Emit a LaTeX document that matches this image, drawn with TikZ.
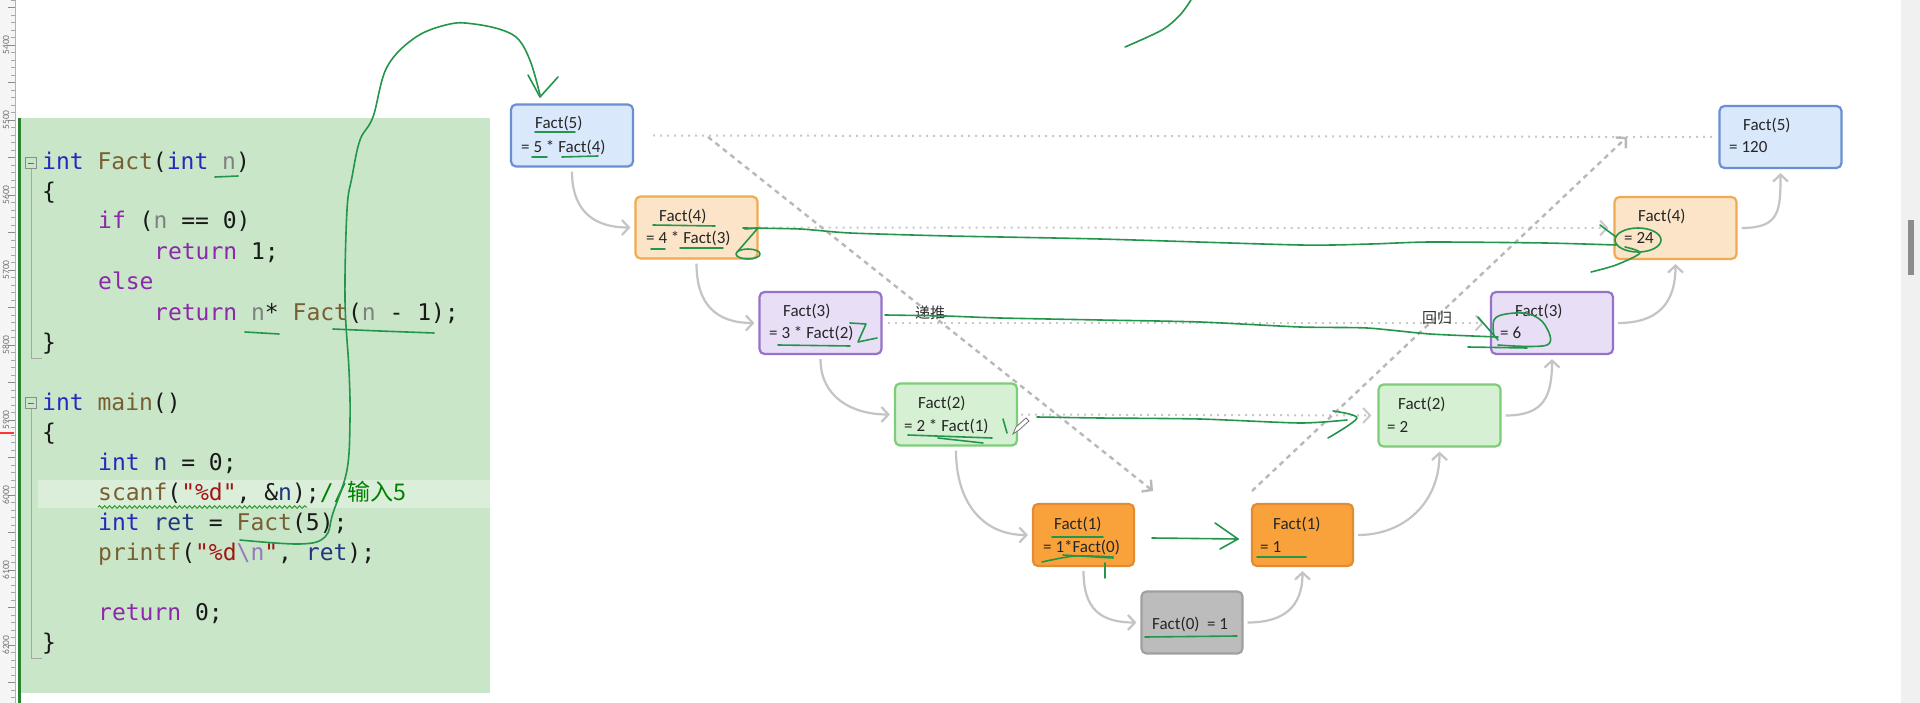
\documentclass[tikz,border=0pt]{standalone}
\usepackage{fontspec}
\setmainfont{Carlito}
\newfontfamily\codefont{DejaVu Sans Mono}
\newfontfamily\cjk{Noto Sans CJK SC}
\usetikzlibrary{arrows.meta,decorations.pathmorphing}
\definecolor{fA}{RGB}{218,232,252}\definecolor{dA}{RGB}{108,142,210}
\definecolor{fB}{RGB}{252,228,200}\definecolor{dB}{RGB}{240,170,80}
\definecolor{fC}{RGB}{232,222,246}\definecolor{dC}{RGB}{150,115,200}
\definecolor{fD}{RGB}{213,240,210}\definecolor{dD}{RGB}{125,205,120}
\definecolor{fE}{RGB}{249,162,60}\definecolor{dE}{RGB}{225,140,50}
\definecolor{fF}{RGB}{188,188,188}\definecolor{dF}{RGB}{160,160,160}
\definecolor{connc}{RGB}{196,196,196}
\definecolor{dotc}{RGB}{200,200,200}
\definecolor{dashc}{RGB}{185,185,185}
\definecolor{inkc}{RGB}{35,150,75}
\definecolor{panel}{RGB}{201,230,201}
\definecolor{hlband}{RGB}{218,238,218}
\definecolor{pborder}{RGB}{40,130,50}
\definecolor{ckw}{RGB}{40,40,190}
\definecolor{cfn}{RGB}{120,95,50}
\definecolor{cctl}{RGB}{140,40,170}
\definecolor{cpar}{RGB}{128,128,128}
\definecolor{cloc}{RGB}{31,55,127}
\definecolor{cstr}{RGB}{163,21,21}
\definecolor{cesc}{RGB}{150,120,190}
\definecolor{ccom}{RGB}{0,128,0}
\definecolor{codeblack}{RGB}{25,25,25}
\newcommand\Ckw[1]{\textcolor{ckw}{#1}}
\newcommand\Cfn[1]{\textcolor{cfn}{#1}}
\newcommand\Cctl[1]{\textcolor{cctl}{#1}}
\newcommand\Cpar[1]{\textcolor{cpar}{#1}}
\newcommand\Cloc[1]{\textcolor{cloc}{#1}}
\newcommand\Cstr[1]{\textcolor{cstr}{#1}}
\newcommand\Cesc[1]{\textcolor{cesc}{#1}}
\newcommand\Ccom[1]{\textcolor{ccom}{#1}}
\begin{document}
\begin{tikzpicture}[x=1pt,y=-1pt,
  bx/.style={rounded corners=5pt, line width=2.2pt, minimum width=122pt, minimum height=62pt, inner sep=0pt},
  sbx/.style={bx, minimum width=101pt},
  btxt/.style={anchor=base west, inner sep=0pt, font=\fontsize{17}{20}\selectfont, text=black!85},
  conn/.style={draw=connc, line width=2.2pt, -{Straight Barb[length=7pt,width=15pt]}, shorten <=4pt, shorten >=4pt},
  dotl/.style={draw=dotc, line width=2pt, dash pattern=on 2pt off 5pt},
  dashl/.style={draw=dashc, line width=2.4pt, dash pattern=on 5pt off 4.5pt},
  tipd/.style={-{Straight Barb[length=7pt,width=15pt]}},
  ink/.style={draw=inkc, line width=1.6pt, line cap=round, line join=round},
  code/.style={anchor=base west, inner sep=0pt, font=\codefont\fontsize{23}{28}\selectfont, text=codeblack},
  cjklab/.style={inner sep=1pt, font=\cjk\fontsize{15}{17}\selectfont, text=black!80}
]
\useasboundingbox (0,0) rectangle (1920,703);
\fill[white] (0,0) rectangle (1920,703);

% ruler
\fill[black!4] (0,0) rectangle (15,703);
\draw[black!30, line width=0.8pt] (15,0) -- (15,703);
\foreach \i in {0,...,93} { \draw[black!35, line width=0.6pt] (11,{\i*7.5}) -- (15,{\i*7.5}); }
\foreach \i in {0,...,18} { \draw[black!45, line width=0.6pt] (8,{\i*37.5+7.5}) -- (15,{\i*37.5+7.5}); }
\foreach \v [count=\k from 0] in {5400,5500,...,6200} {
  \node[rotate=90, inner sep=0pt, font=\fontsize{9.5}{10}\selectfont, text=black!55] (rl\k) at (6,{45+75*\k}) {\v};
}
\draw[red!80, line width=1.5pt] (0,433) -- (14,433);

% scrollbar
\fill[black!6] (1901,0) rectangle (1920,703);
\fill[black!45] (1908,220) rectangle (1914,275);

% code panel
\fill[panel] (20,118) rectangle (490,693);
\fill[hlband] (38,480) rectangle (490,508);
\draw[pborder, line width=3pt] (19,118) -- (19,703);

\node[draw=black!45, line width=0.8pt, minimum size=11pt, inner sep=0pt, fill=panel] (cb1) at (31,163) {};
\draw[black!60, line width=0.8pt] (28,163) -- (34,163);
\draw[black!35, line width=0.8pt] (cb1.south) -- (31,358) -- (42,358);
\node[draw=black!45, line width=0.8pt, minimum size=11pt, inner sep=0pt, fill=panel] (cb2) at (31,403) {};
\draw[black!60, line width=0.8pt] (28,403) -- (34,403);
\draw[black!35, line width=0.8pt] (cb2.south) -- (31,658) -- (42,658);

\node[code] (c1) at (42,170) {\Ckw{int} \Cfn{Fact}(\Ckw{int} \Cpar{n})};
\node[code] (c2) at (42,200) {\{};
\node[code] (c3) at (98,229) {\Cctl{if} (\Cpar{n} == 0)};
\node[code] (c4) at (154,260) {\Cctl{return} 1;};
\node[code] (c5) at (98,290) {\Cctl{else}};
\node[code] (c6) at (154,320) {\Cctl{return} \Cpar{n}* \Cfn{Fact}(\Cpar{n} - 1);};
\node[code] (c7) at (42,350) {\}};
\node[code] (c8) at (42,410) {\Ckw{int} \Cfn{main}()};
\node[code] (c9) at (42,440) {\{};
\node[code] (c10) at (98,470) {\Ckw{int} \Cloc{n} = 0;};
\node[code] (c11) at (98,500) {\Cfn{scanf}(\Cstr{"\%d"}, \&\Cloc{n});\Ccom{//{\cjk 输入5}}};
\node[code] (c12) at (98,530) {\Ckw{int} \Cloc{ret} = \Cfn{Fact}(5);};
\node[code] (c13) at (98,560) {\Cfn{printf}(\Cstr{"\%d}\Cesc{\textbackslash n}\Cstr{"}, \Cloc{ret});};
\node[code] (c14) at (98,620) {\Cctl{return} 0;};
\node[code] (c15) at (42,650) {\}};
\draw[draw=ccom!80!white, line width=1pt, decorate, decoration={snake, amplitude=1.3pt, segment length=5pt}] (98,507) -- (307,507);

% boxes
\node[bx, fill=fA, draw=dA] (L5) at (572,135.5) {};
\node[bx, fill=fB, draw=dB] (L4) at (696.5,227.5) {};
\node[bx, fill=fC, draw=dC] (L3) at (820.5,323) {};
\node[bx, fill=fD, draw=dD] (L2) at (956,414.5) {};
\node[sbx, fill=fE, draw=dE] (L1) at (1083.5,535) {};
\node[sbx, fill=fF, draw=dF] (Z0) at (1192,622.5) {};
\node[sbx, fill=fE, draw=dE] (R1) at (1302.5,535) {};
\node[bx, fill=fD, draw=dD] (R2) at (1439.5,415.5) {};
\node[bx, fill=fC, draw=dC] (R3) at (1552,323) {};
\node[bx, fill=fB, draw=dB] (R4) at (1675.5,228) {};
\node[bx, fill=fA, draw=dA] (R5) at (1780.5,137) {};

\node[btxt] (L5a) at (535,129) {Fact(5)};
\node[btxt] (L5b) at (521,153) {= 5 * Fact(4)};
\node[btxt] (L4a) at (659,222) {Fact(4)};
\node[btxt] (L4b) at (646,244) {= 4 * Fact(3)};
\node[btxt] (L3a) at (783,317) {Fact(3)};
\node[btxt] (L3b) at (769,339) {= 3 * Fact(2)};
\node[btxt] (L2a) at (918,408) {Fact(2)};
\node[btxt] (L2b) at (904,431) {= 2 * Fact(1)};
\node[btxt] (L1a) at (1054,529) {Fact(1)};
\node[btxt] (L1b) at (1043,552) {= 1*Fact(0)};
\node[btxt] (Z0a) at (1152,629) {Fact(0)~~= 1};
\node[btxt] (R1a) at (1273,529) {Fact(1)};
\node[btxt] (R1b) at (1260,552) {= 1};
\node[btxt] (R2a) at (1398,409) {Fact(2)};
\node[btxt] (R2b) at (1387,432) {= 2};
\node[btxt] (R3a) at (1515,317) {Fact(3)};
\node[btxt] (R3b) at (1500,339) {= 6};
\node[btxt] (R4a) at (1638,222) {Fact(4)};
\node[btxt] (R4b) at (1624,244) {= 24};
\node[btxt] (R5a) at (1743,131) {Fact(5)};
\node[btxt] (R5b) at (1729,153) {= 120};

% curved connectors
\draw[conn] (L5.south) .. controls +(0,42) and +(-42,0) .. (L4.west);
\draw[conn] (L4.south) .. controls +(0,45) and +(-42,0) .. (L3.west);
\draw[conn] (L3.south) .. controls +(0,42) and +(-42,0) .. (L2.west);
\draw[conn] (L2.south) .. controls +(0,55) and +(-50,0) .. (L1.west);
\draw[conn] (L1.south) .. controls +(0,42) and +(-40,0) .. (Z0.west);
\draw[conn] (Z0.east) .. controls +(40,0) and +(0,40) .. (R1.south);
\draw[conn] (R1.east) .. controls +(50,0) and +(0,55) .. (R2.south);
\draw[conn] (R2.east) .. controls +(42,0) and +(0,42) .. (R3.south);
\draw[conn] (R3.east) .. controls +(42,0) and +(0,45) .. (R4.south);
\draw[conn] (R4.east) .. controls +(42,0) and +(0,42) .. (R5.south);

% dotted level lines
\draw[dotl] ([xshift=19pt]L5.east) -- ([xshift=-4pt]R5.west);
\draw[dotl, tipd, shorten >=5pt] (L4.east) -- (R4.west);
\draw[dotl, tipd, shorten >=6pt] ([xshift=5pt]L3.east) -- (R3.west);
\draw[dotl, tipd, shorten >=6pt] ([xshift=3pt]L2.east) -- (R2.west);

% diagonal dashed arrows
\coordinate (ds1) at (708,137);
\coordinate (de1) at (1153,491);
\coordinate (ds2) at (1252,491);
\coordinate (de2) at (1627,137);
\draw[dashl, tipd] (ds1) -- (de1);
\draw[dashl, tipd] (ds2) -- (de2);

\node[cjklab] (lt) at (930,313) {递推};
\node[cjklab] (lh) at (1437,318) {回归};

% pencil cursor
\draw[black!55, line width=0.8pt, fill=white] (1013,434) -- (1016,427) -- (1026,418) -- (1029,421) -- (1019,430) -- cycle;

% hand-drawn annotations
\draw[ink] (215,177) -- (238,176);
\draw[ink] (245,332) -- (279,334);
\draw[ink] plot[smooth] coordinates {(333,329) (380,331) (434,333)};
\draw[ink] plot[smooth, tension=0.6] coordinates {(240,540) (300,544) (325,537) (333,513) (347,470) (350,420) (349,370) (345,300) (347,210) (352,177) (360,140) (373,117) (387,67) (416,37) (450,24) (474,24) (502,30) (519,40) (531,63) (540,95)};
\draw[ink] (528,75) -- (540,97) -- (558,77);
\draw[ink] plot[smooth] coordinates {(1125,47) (1162,30) (1180,15) (1191,0)};

\draw[ink] (535,132) -- (575,132);
\draw[ink] (532,157) -- (547,157);
\draw[ink] (562,157) -- (598,156);
\draw[ink] (653,225) -- (715,226);
\draw[ink] (651,249) -- (665,249);
\draw[ink] (680,248) -- (723,248);
\draw[ink] (745,229) -- (758,228) -- (738,251);
\draw[ink] (748,254) ellipse [x radius=12, y radius=5];
\draw[ink] plot[smooth, tension=0.4] coordinates {(743,228) (800,229) (850,233) (950,236) (1100,239) (1300,245) (1371,244) (1430,242) (1545,243) (1616,245)};
\draw[ink] (1638,240) ellipse [x radius=23, y radius=12];
\draw[ink] plot[smooth] coordinates {(1591,272) (1616,265) (1640,253) (1625,247)};
\draw[ink] (1600,225) -- (1616,237);

\draw[ink] (778,345) -- (850,346);
\draw[ink] (850,323) -- (866,324) -- (858,342) -- (877,338);
\draw[ink] plot[smooth, tension=0.4] coordinates {(885,315) (945,316) (1000,318) (1100,320) (1200,322) (1300,327) (1367,328) (1430,334) (1498,337)};
\draw[ink] plot[smooth, tension=0.6] coordinates {(1494,337) (1494,320) (1506,314) (1529,314) (1545,325) (1547,345) (1498,345)};
\draw[ink] (1468,347) -- (1527,348);
\draw[ink] (1478,317) -- (1498,340);

\draw[ink] (908,435) -- (992,438);
\draw[ink] (938,438) -- (983,443);
\draw[ink] (1003,419) -- (1007,433);
\draw[ink] plot[smooth, tension=0.4] coordinates {(1037,417) (1100,418) (1200,419) (1300,423) (1347,420)};
\draw[ink] plot[smooth] coordinates {(1333,411) (1357,418) (1328,438)};

\draw[ink] (1052,537) -- (1103,537);
\draw[ink] plot[smooth] coordinates {(1042,562) (1075,556) (1113,557)};
\draw[ink] (1063,555) -- (1113,558);
\draw[ink] (1105,563) -- (1105,578);
\draw[ink] (1152,538) -- (1238,539);
\draw[ink] (1215,523) -- (1238,539) -- (1220,549);
\draw[ink] (1257,557) -- (1306,557);
\draw[ink] (1145,637) -- (1237,636);
\end{tikzpicture}
\end{document}
